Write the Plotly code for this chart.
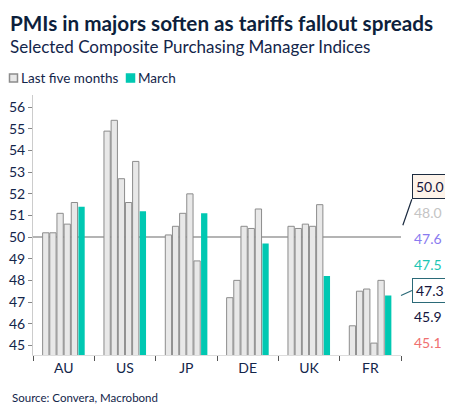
import plotly.graph_objects as go

# PMI readings, last five months then March
countries = ["AU", "US", "JP", "DE", "UK", "FR"]
month_1 = [50.2, 54.9, 50.1, 47.2, 50.5, 45.9]
month_2 = [50.2, 55.4, 50.5, 48.0, 50.4, 47.5]
month_3 = [51.1, 52.7, 51.1, 50.5, 50.6, 47.6]
month_4 = [50.6, 51.6, 52.0, 50.4, 50.5, 45.1]
month_5 = [51.6, 53.5, 48.9, 51.3, 51.5, 48.0]
march = [51.4, 51.2, 51.1, 49.7, 48.2, 47.3]

# colours Macrobond uses for the FR last-value labels
label_colors = ["#14143c", "#1cc6b4", "#8a7bf0", "#f07070", "#c4c4c4"]

navy = "#13254a"
font = "Lato"
grey_fill, grey_line, teal = "#e8e8e8", "#8c8c8c", "#00c8b2"

fig = go.Figure()

for i, vals in enumerate([month_1, month_2, month_3, month_4, month_5]):
    fig.add_trace(go.Bar(x=countries, y=vals, name="Last five months",
                         legendgroup="five", showlegend=False,
                         marker=dict(color=grey_fill, line=dict(color=grey_line, width=1))))

fig.add_trace(go.Bar(x=countries, y=march, name="March", showlegend=False,
                     marker=dict(color=teal, line=dict(width=0))))

# 50 line
fig.add_hline(y=50, line=dict(color="#b4b4b4", width=2), layer="below")

# page body has an 8px margin, so the figure is 8px smaller than the window
fig.update_layout(
    width=445, height=409,
    margin=dict(l=25, r=52, t=87, b=62, autoexpand=False),
    paper_bgcolor="white", plot_bgcolor="white",
    barmode="group", bargap=0.3, bargroupgap=0.12,
    font=dict(family=font, color=navy, size=13),
    showlegend=False,
)

fig.update_xaxes(type="category", tickson="boundaries", ticks="outside", ticklen=5,
                 tickcolor="#555555", showline=True, linecolor="#dddddd", linewidth=1,
                 showgrid=False, tickfont=dict(size=14, color=navy))
fig.update_yaxes(range=[44.55, 56.57], dtick=1, ticks="outside", ticklen=4,
                 tickcolor="#888888", showline=True, linecolor="#cccccc", linewidth=1,
                 showgrid=False, zeroline=False, tickfont=dict(size=14, color=navy))

# titles
fig.add_annotation(text="<b>PMIs in majors soften as tariffs fallout spreads</b>",
                   xref="paper", yref="paper", x=-0.068, y=1.277, xanchor="left", yanchor="middle",
                   showarrow=False, font=dict(size=20.7, color="#0d1f3c"))
fig.add_annotation(text="Selected Composite Purchasing Manager Indices",
                   xref="paper", yref="paper", x=-0.068, y=1.185, xanchor="left", yanchor="middle",
                   showarrow=False, font=dict(size=17, color=navy))
fig.add_annotation(text="Source: Convera, Macrobond",
                   xref="paper", yref="paper", x=-0.062, y=-0.165, xanchor="left", yanchor="middle",
                   showarrow=False, font=dict(size=11.5, color=navy))

# legend: small swatches right against the labels
leg_y = 1.065
for cx, fill, edge in [(-0.053, grey_fill, grey_line), (0.265, teal, teal)]:
    fig.add_shape(type="rect", xref="paper", yref="paper", xsizemode="pixel", ysizemode="pixel",
                  xanchor=cx, yanchor=leg_y, x0=-4, x1=4, y0=-4, y1=4,
                  fillcolor=fill, line=dict(color=edge, width=1.5))
fig.add_annotation(text="Last five months", xref="paper", yref="paper", x=-0.037, y=leg_y,
                   showarrow=False, xanchor="left", yanchor="middle", font=dict(size=13.5, color=navy))
fig.add_annotation(text="March", xref="paper", yref="paper", x=0.281, y=leg_y,
                   showarrow=False, xanchor="left", yanchor="middle", font=dict(size=13.5, color=navy))

# right-hand last-value labels for FR
fr = [month_1[-1], month_2[-1], month_3[-1], month_4[-1], month_5[-1]]
plain = sorted(zip(fr, label_colors), key=lambda t: -t[0])
slots = [0.55, 0.45, 0.35, 0.15, 0.05]
for (v, c), yy in zip(plain, slots):
    fig.add_annotation(text=f"{v:.1f}", xref="paper", yref="paper", x=1.073, y=yy,
                       xanchor="center", yanchor="middle",
                       showarrow=False, font=dict(size=14, color=c))

# reference line callout
fig.add_annotation(text="50.0", xref="paper", yref="y", x=1.005, y=50.55, ax=9, ay=-26,
                   xanchor="left", yanchor="bottom",
                   showarrow=True, arrowhead=0, arrowcolor="#1c2b40", arrowwidth=1.2,
                   bgcolor="#fdf3ea", bordercolor="#1c2b40", borderwidth=1, borderpad=3,
                   font=dict(size=14, color="#14143c"))
# March FR callout
fig.add_annotation(text=f"{march[-1]:.1f}", xref="paper", yref="y", x=1.0, y=march[-1], ax=11, ay=-5,
                   xanchor="left", yanchor="middle",
                   showarrow=True, arrowhead=0, arrowcolor="#2b6a78", arrowwidth=1.2,
                   bgcolor="white", bordercolor="#2b6a78", borderwidth=1, borderpad=3,
                   font=dict(size=14, color="#14143c"))

fig.write_html("out.html")
